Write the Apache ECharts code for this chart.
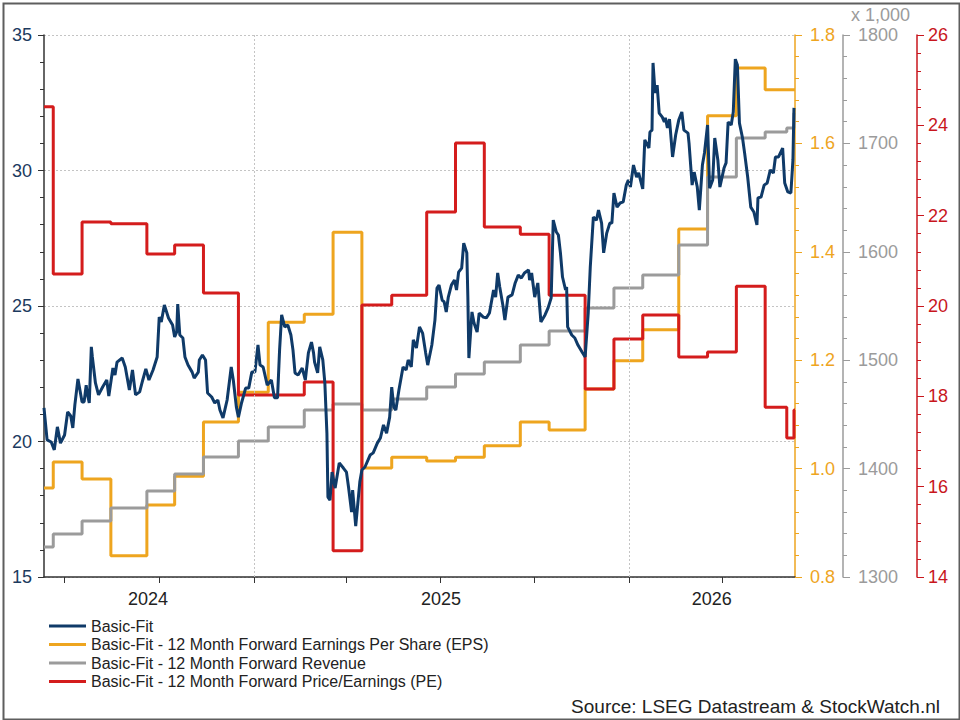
<!DOCTYPE html>
<html>
<head>
<meta charset="utf-8">
<title>Basic-Fit</title>
<script src="https://cdn.jsdelivr.net/npm/echarts@6.0.0/dist/echarts.min.js"></script>
<style>
  html, body { margin: 0; padding: 0; background: #fff; }
  #chart { width: 960px; height: 720px; }
</style>
</head>
<body>
<div id="chart"></div>
<script>
// Basic-Fit share price (left axis, EUR)
const priceDates = [
  '2024-06-11','2024-06-14','2024-06-18','2024-06-21','2024-06-24','2024-06-27','2024-07-01','2024-07-04','2024-07-07','2024-07-09',
  '2024-07-11','2024-07-14','2024-07-18','2024-07-20','2024-07-22','2024-07-23','2024-07-25','2024-07-27','2024-07-28','2024-07-31',
  '2024-08-03','2024-08-07','2024-08-11','2024-08-13','2024-08-17','2024-08-19','2024-08-21','2024-08-26','2024-08-29','2024-09-02',
  '2024-09-05','2024-09-08','2024-09-12','2024-09-15','2024-09-18','2024-09-21','2024-09-25','2024-09-29','2024-10-01','2024-10-03',
  '2024-10-06','2024-10-10','2024-10-14','2024-10-16','2024-10-18','2024-10-19','2024-10-21','2024-10-24','2024-10-26','2024-10-29',
  '2024-11-02','2024-11-04','2024-11-08','2024-11-09','2024-11-12','2024-11-15','2024-11-17','2024-11-21','2024-11-24','2024-11-27',
  '2024-11-29','2024-12-02','2024-12-06','2024-12-10','2024-12-12','2024-12-15','2024-12-17','2024-12-20','2024-12-24','2024-12-27',
  '2024-12-30','2025-01-02','2025-01-05','2025-01-07','2025-01-10','2025-01-14','2025-01-18','2025-01-21','2025-01-24','2025-01-26',
  '2025-01-28','2025-01-31','2025-02-03','2025-02-06','2025-02-08','2025-02-10','2025-02-13','2025-02-17','2025-02-20','2025-02-23',
  '2025-02-26','2025-02-28','2025-03-01','2025-03-04','2025-03-06','2025-03-09','2025-03-11','2025-03-13','2025-03-14','2025-03-16',
  '2025-03-18','2025-03-21','2025-03-25','2025-03-29','2025-04-01','2025-04-03','2025-04-06','2025-04-07','2025-04-10','2025-04-14',
  '2025-04-16','2025-04-19','2025-04-24','2025-04-27','2025-05-01','2025-05-04','2025-05-07','2025-05-10','2025-05-13','2025-05-15',
  '2025-05-17','2025-05-19','2025-05-22','2025-05-26','2025-05-29','2025-05-31','2025-06-03','2025-06-05','2025-06-08','2025-06-11',
  '2025-06-14','2025-06-17','2025-06-19','2025-06-23','2025-06-26','2025-06-28','2025-06-30','2025-07-03','2025-07-05','2025-07-07',
  '2025-07-09','2025-07-12','2025-07-15','2025-07-17','2025-07-19','2025-07-22','2025-07-24','2025-07-27','2025-07-28','2025-07-29',
  '2025-08-01','2025-08-03','2025-08-06','2025-08-08','2025-08-12','2025-08-15','2025-08-18','2025-08-22','2025-08-24','2025-08-26',
  '2025-08-28','2025-08-31','2025-09-02','2025-09-05','2025-09-09','2025-09-12','2025-09-15','2025-09-18','2025-09-21','2025-09-25',
  '2025-09-26','2025-09-28','2025-10-01','2025-10-04','2025-10-07','2025-10-11','2025-10-14','2025-10-17','2025-10-19','2025-10-22',
  '2025-10-24','2025-10-26','2025-10-28','2025-10-31','2025-11-01','2025-11-02','2025-11-06','2025-11-09','2025-11-12','2025-11-16',
  '2025-11-19','2025-11-22','2025-11-24','2025-11-27','2025-11-30','2025-12-02','2025-12-05','2025-12-07','2025-12-10','2025-12-13',
  '2025-12-15','2025-12-17','2025-12-20','2025-12-23','2025-12-26','2025-12-29','2025-12-31','2026-01-02','2026-01-05','2026-01-08',
  '2026-01-10','2026-01-14','2026-01-16','2026-01-20','2026-01-21','2026-01-23','2026-01-24','2026-01-26','2026-01-28','2026-01-30',
  '2026-02-02','2026-02-04','2026-02-05','2026-02-07','2026-02-09','2026-02-12','2026-02-15','2026-02-18','2026-02-21','2026-02-23',
  '2026-02-27','2026-02-28','2026-03-03','2026-03-05','2026-03-08','2026-03-10','2026-03-13','2026-03-15','2026-03-18','2026-03-20',
  '2026-03-23','2026-03-25','2026-03-28','2026-03-30','2026-04-03','2026-04-05','2026-04-07','2026-04-10','2026-04-12','2026-04-14',
  '2026-04-16','2026-04-18','2026-04-21','2026-04-23','2026-04-26','2026-04-29','2026-05-02','2026-05-05','2026-05-06','2026-05-09',
  '2026-05-12','2026-05-15','2026-05-18','2026-05-21','2026-05-23','2026-05-26','2026-05-30','2026-06-01','2026-06-04','2026-06-07',
  '2026-06-09','2026-06-10'
];
const priceValues = [
  21.24,20.06,19.98,19.69,20.54,19.94,20.24,21.09,20.94,20.50,
  21.35,22.31,21.46,21.46,22.08,21.79,21.42,23.49,23.12,22.16,
  21.72,22.01,22.27,21.68,22.71,22.45,22.93,23.08,22.75,21.90,
  22.64,21.72,21.83,22.27,22.68,22.27,22.64,23.12,24.59,24.41,
  25.04,24.56,24.30,23.86,24.04,25.07,23.93,23.82,23.12,22.82,
  22.56,22.34,22.56,23.01,23.19,23.01,21.79,21.64,21.42,21.53,
  21.16,20.87,21.53,22.75,22.27,21.27,20.90,21.42,21.97,21.97,
  22.56,22.56,23.56,22.82,22.75,22.08,22.27,21.61,21.61,23.38,
  24.67,24.23,24.30,23.93,23.38,22.53,22.45,22.71,22.27,23.27,
  23.67,23.27,22.93,22.53,23.49,23.01,22.16,20.31,17.95,17.84,
  18.87,18.28,19.21,19.02,18.87,18.32,17.40,18.21,16.88,18.51,
  18.95,19.06,19.50,19.58,19.94,20.13,20.61,20.31,20.90,22.01,
  21.27,21.16,21.90,22.75,22.64,23.01,22.75,23.75,23.45,24.23,
  24.00,23.27,22.82,23.56,24.48,25.66,25.77,25.22,25.15,24.78,
  25.33,25.77,25.96,25.59,26.25,26.40,27.32,26.96,25.33,23.08,
  24.78,24.37,24.04,24.74,24.59,24.56,24.74,25.59,25.33,26.22,
  25.70,25.04,24.48,25.33,25.41,25.85,26.14,26.03,26.22,26.33,
  25.96,26.22,25.33,25.85,24.41,24.67,24.93,25.30,28.17,27.73,
  27.62,26.96,26.07,25.59,25.70,24.23,23.93,23.82,23.56,23.30,
  23.12,24.74,26.44,28.28,28.17,28.54,28.06,26.96,27.69,28.06,
  28.06,29.17,28.65,28.80,28.84,29.46,29.65,29.39,30.20,29.76,
  29.91,29.32,31.13,30.83,31.42,31.49,33.97,32.86,33.15,32.12,
  31.97,31.79,31.94,31.57,31.90,30.50,31.31,31.86,32.16,31.49,
  31.38,31.01,29.46,29.94,29.39,28.54,30.20,30.65,31.68,29.35,
  29.65,31.20,30.39,29.39,30.09,30.28,31.79,31.68,32.16,34.11,
  33.89,31.75,31.20,30.65,29.76,28.65,28.47,27.99,28.99,29.02,
  29.46,29.54,30.02,29.91,30.50,30.50,30.83,29.54,29.21,29.17,
  30.39,32.31
];

// 12 month forward estimates, revised at these dates
const estimateDates = [
  '2024-06-11','2024-06-20','2024-07-18','2024-08-15','2024-09-19','2024-10-16','2024-11-13','2024-12-17','2025-01-15',
  '2025-02-19','2025-03-19','2025-04-16','2025-05-15','2025-06-18','2025-07-16','2025-08-13','2025-09-17','2025-10-15',
  '2025-11-19','2025-12-17','2026-01-14','2026-02-18','2026-03-18','2026-04-15','2026-05-13','2026-06-03','2026-06-10'
];
const epsValues = [
  0.964,1.012,0.981,0.839,0.933,0.986,1.086,1.141,1.270,
  1.285,1.436,1.001,1.021,1.014,1.021,1.042,1.086,1.071,
  1.147,1.199,1.256,1.442,1.651,1.739,1.699,1.699,1.699
];
const revenueValues = [
  1327.7,1339.7,1351.7,1363.7,1379.3,1395.0,1410.7,1425.5,1438.4,
  1454.1,1459.6,1454.1,1464.2,1475.3,1487.3,1498.4,1514.0,1526.9,
  1548.2,1566.6,1578.6,1606.3,1669.0,1705.0,1710.5,1714.2,1728.0
];
const peValues = [
  24.41,20.71,21.86,21.82,21.15,21.35,20.29,18.03,18.03,
  18.32,14.58,20.02,20.24,22.08,23.61,21.75,21.59,20.24,
  18.16,19.27,19.80,18.87,18.98,20.44,17.76,17.08,17.70
];

const xStart = '2024-06-11';
const xEnd = '2026-06-11';
const quarterTicks = ['2024-07-01','2024-10-01','2025-01-01','2025-04-01','2025-07-01','2025-10-01','2026-01-01','2026-04-01'];
const yearLabelDates = ['2024-09-20','2025-07-02','2026-03-22'];
const yearStarts = ['2025-01-01','2026-01-01'];

const seriesNames = [
  'Basic-Fit',
  'Basic-Fit - 12 Month Forward Earnings Per Share (EPS)',
  'Basic-Fit - 12 Month Forward Revenue',
  'Basic-Fit - 12 Month Forward Price/Earnings (PE)'
];

const FONT = '"Liberation Sans", Arial, sans-serif';
const BLUE = '#0f3a68', YELLOW = '#eea51f', GRAY = '#9b9b9b', RED = '#d41c1c';

// dates go on a plain value axis as timestamps
const ts = (s) => new Date(s + 'T00:00:00').getTime();
const pairs = (dates, values) => dates.map((d, i) => [ts(d), values[i]]);
// hold the last estimate to the right edge
const stepped = (values) => pairs(estimateDates, values).concat([[ts(xEnd), values[values.length - 1]]]);

const chart = echarts.init(document.getElementById('chart'), null, { renderer: 'svg' });

const valueAxis = (color, opts) => Object.assign({
  type: 'value',
  axisLine: { show: true, lineStyle: { color: color, width: 1.5 } },
  axisTick: { show: true, length: 7, lineStyle: { color: color } },
  minorTick: { show: true, splitNumber: 5, length: 4, lineStyle: { color: color } },
  axisLabel: { color: color, fontSize: 18, fontFamily: FONT, margin: 14 },
  splitLine: { show: false }
}, opts);

chart.setOption({
  animation: false,
  textStyle: { fontFamily: FONT },
  grid: { left: 44, right: 165, top: 35, bottom: 143 },
  legend: {
    orient: 'vertical',
    left: 49,
    top: 617,
    padding: 0,
    itemGap: 0.5,
    itemWidth: 37,
    itemHeight: 3,
    icon: 'rect',
    selectedMode: false,
    data: seriesNames,
    textStyle: { color: '#222', fontSize: 16, lineHeight: 18, fontFamily: FONT }
  },
  xAxis: {
    type: 'value',
    min: ts(xStart),
    max: ts(xEnd),
    axisLine: { lineStyle: { color: '#333', width: 1.5 } },
    axisTick: { show: true, customValues: quarterTicks.map(ts), length: 6, lineStyle: { color: '#333' } },
    axisLabel: {
      customValues: yearLabelDates.map(ts),
      formatter: (v) => String(new Date(v).getFullYear()),
      color: '#222', fontSize: 18, fontFamily: FONT, margin: 13
    },
    splitLine: { show: false }
  },
  yAxis: [
    valueAxis('#333', {
      position: 'left', min: 15, max: 35, interval: 5,
      axisLabel: { color: '#1c3a5e', fontSize: 18, fontFamily: FONT, margin: 12 },
      axisTick: { show: true, length: 6, lineStyle: { color: '#333' } },
      splitLine: { show: true, lineStyle: { color: '#c4c4c4', type: [2, 2], width: 1 } }
    }),
    valueAxis(YELLOW, {
      position: 'right', offset: 0, min: 0.8, max: 1.8, interval: 0.2,
      axisLabel: { color: YELLOW, fontSize: 18, fontFamily: FONT, margin: 15, formatter: (v) => v.toFixed(1) }
    }),
    valueAxis(GRAY, {
      position: 'right', offset: 48, min: 1300, max: 1800, interval: 100,
      axisLabel: { color: GRAY, fontSize: 18, fontFamily: FONT, margin: 15, formatter: (v) => String(v) }
    }),
    valueAxis('#c8161d', {
      position: 'right', offset: 122, min: 14, max: 26, interval: 2,
      axisLabel: { color: '#c8161d', fontSize: 18, fontFamily: FONT, margin: 11 }
    })
  ],
  graphic: [
    {
      type: 'text', left: 851, top: 6,
      style: { text: 'x 1,000', fill: GRAY, fontSize: 18, fontFamily: FONT }
    },
    {
      type: 'text', right: 20, top: 697,
      style: { text: 'Source: LSEG Datastream & StockWatch.nl', fill: '#222', fontSize: 19, fontFamily: FONT }
    },
    {
      type: 'rect', left: 1, top: 1, silent: true,
      shape: { width: 956, height: 716 },
      style: { fill: 'none', stroke: '#5e5e5e', lineWidth: 2 }
    }
  ],
  series: [
    {
      name: 'year-grid',
      type: 'line',
      data: [],
      z: 1,
      markLine: {
        silent: true,
        symbol: ['none', 'none'],
        label: { show: false },
        lineStyle: { color: '#c4c4c4', type: [2, 2], width: 1 },
        data: yearStarts.map((d) => ({ xAxis: ts(d) }))
      }
    },
    {
      name: seriesNames[0], type: 'line', yAxisIndex: 0, z: 3,
      showSymbol: false, color: BLUE,
      lineStyle: { color: BLUE, width: 3 },
      data: pairs(priceDates, priceValues)
    },
    {
      name: seriesNames[1], type: 'line', yAxisIndex: 1, z: 2, step: 'end',
      showSymbol: false, color: YELLOW,
      lineStyle: { color: YELLOW, width: 3 },
      data: stepped(epsValues)
    },
    {
      name: seriesNames[2], type: 'line', yAxisIndex: 2, z: 2, step: 'end',
      showSymbol: false, color: GRAY,
      lineStyle: { color: GRAY, width: 3 },
      data: stepped(revenueValues)
    },
    {
      name: seriesNames[3], type: 'line', yAxisIndex: 3, z: 2, step: 'end',
      showSymbol: false, color: RED,
      lineStyle: { color: RED, width: 3 },
      data: stepped(peValues)
    }
  ]
});
</script>
</body>
</html>
